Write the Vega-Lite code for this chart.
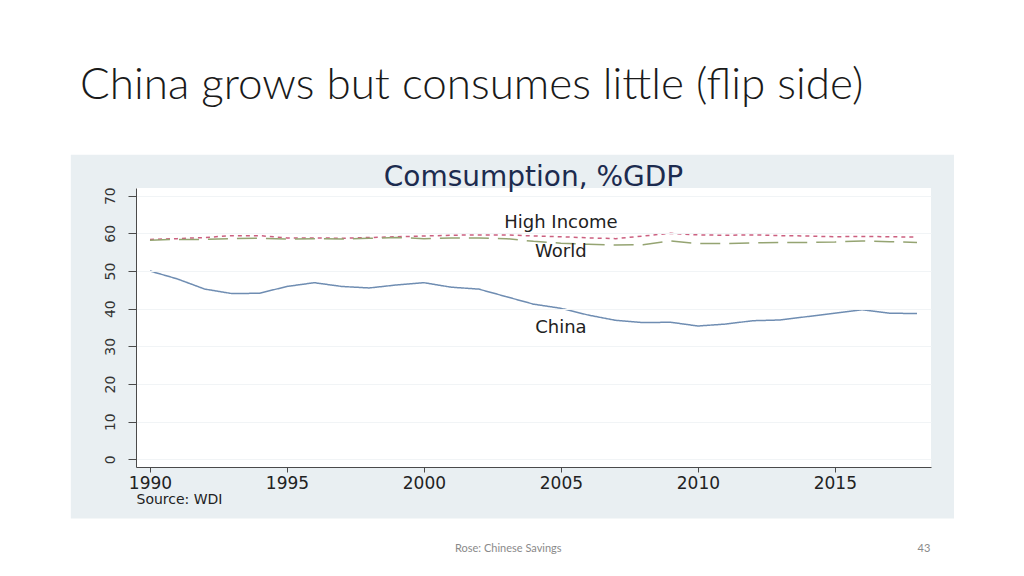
{
  "$schema": "https://vega.github.io/schema/vega-lite/v6.json",
  "width": 795,
  "height": 279,
  "autosize": {"type": "none"},
  "padding": {"left": 136, "top": 188, "right": 93, "bottom": 109},
  "background": "white",
  "config": {"view": {"stroke": null, "fill": "white"}},
  "title": {
    "text": "China grows but consumes little (flip side)",
    "anchor": "start",
    "frame": "group",
    "font": "Lato",
    "fontWeight": 300,
    "fontSize": 44,
    "color": "#1a1a1a",
    "dx": -56,
    "offset": 12,
    "baseline": "alphabetic"
  },
  "data": {
    "values": [
      {"year": 1990, "series": "China", "value": 50.0},
      {"year": 1991, "series": "China", "value": 47.9},
      {"year": 1992, "series": "China", "value": 45.2},
      {"year": 1993, "series": "China", "value": 44.0},
      {"year": 1994, "series": "China", "value": 44.1},
      {"year": 1995, "series": "China", "value": 45.9},
      {"year": 1996, "series": "China", "value": 46.9},
      {"year": 1997, "series": "China", "value": 45.9},
      {"year": 1998, "series": "China", "value": 45.5},
      {"year": 1999, "series": "China", "value": 46.3},
      {"year": 2000, "series": "China", "value": 46.9},
      {"year": 2001, "series": "China", "value": 45.7},
      {"year": 2002, "series": "China", "value": 45.2},
      {"year": 2003, "series": "China", "value": 43.2},
      {"year": 2004, "series": "China", "value": 41.2},
      {"year": 2005, "series": "China", "value": 40.1},
      {"year": 2006, "series": "China", "value": 38.3},
      {"year": 2007, "series": "China", "value": 36.9},
      {"year": 2008, "series": "China", "value": 36.3},
      {"year": 2009, "series": "China", "value": 36.4},
      {"year": 2010, "series": "China", "value": 35.4},
      {"year": 2011, "series": "China", "value": 35.9},
      {"year": 2012, "series": "China", "value": 36.8},
      {"year": 2013, "series": "China", "value": 37.0},
      {"year": 2014, "series": "China", "value": 37.9},
      {"year": 2015, "series": "China", "value": 38.8},
      {"year": 2016, "series": "China", "value": 39.7},
      {"year": 2017, "series": "China", "value": 38.8},
      {"year": 2018, "series": "China", "value": 38.7},
      {"year": 1990, "series": "High Income", "value": 58.4},
      {"year": 1991, "series": "High Income", "value": 58.6},
      {"year": 1992, "series": "High Income", "value": 58.9},
      {"year": 1993, "series": "High Income", "value": 59.4},
      {"year": 1994, "series": "High Income", "value": 59.4},
      {"year": 1995, "series": "High Income", "value": 58.8},
      {"year": 1996, "series": "High Income", "value": 58.8},
      {"year": 1997, "series": "High Income", "value": 58.7},
      {"year": 1998, "series": "High Income", "value": 58.9},
      {"year": 1999, "series": "High Income", "value": 59.1},
      {"year": 2000, "series": "High Income", "value": 59.3},
      {"year": 2001, "series": "High Income", "value": 59.5},
      {"year": 2002, "series": "High Income", "value": 59.6},
      {"year": 2003, "series": "High Income", "value": 59.6},
      {"year": 2004, "series": "High Income", "value": 59.3},
      {"year": 2005, "series": "High Income", "value": 59.1},
      {"year": 2006, "series": "High Income", "value": 58.8},
      {"year": 2007, "series": "High Income", "value": 58.6},
      {"year": 2008, "series": "High Income", "value": 59.3},
      {"year": 2009, "series": "High Income", "value": 60.0},
      {"year": 2010, "series": "High Income", "value": 59.6},
      {"year": 2011, "series": "High Income", "value": 59.5},
      {"year": 2012, "series": "High Income", "value": 59.6},
      {"year": 2013, "series": "High Income", "value": 59.4},
      {"year": 2014, "series": "High Income", "value": 59.3},
      {"year": 2015, "series": "High Income", "value": 59.1},
      {"year": 2016, "series": "High Income", "value": 59.2},
      {"year": 2017, "series": "High Income", "value": 59.1},
      {"year": 2018, "series": "High Income", "value": 59.0},
      {"year": 1990, "series": "World", "value": 58.2},
      {"year": 1991, "series": "World", "value": 58.4},
      {"year": 1992, "series": "World", "value": 58.4},
      {"year": 1993, "series": "World", "value": 58.6},
      {"year": 1994, "series": "World", "value": 58.7},
      {"year": 1995, "series": "World", "value": 58.5},
      {"year": 1996, "series": "World", "value": 58.6},
      {"year": 1997, "series": "World", "value": 58.5},
      {"year": 1998, "series": "World", "value": 58.7},
      {"year": 1999, "series": "World", "value": 58.9},
      {"year": 2000, "series": "World", "value": 58.6},
      {"year": 2001, "series": "World", "value": 58.8},
      {"year": 2002, "series": "World", "value": 58.8},
      {"year": 2003, "series": "World", "value": 58.6},
      {"year": 2004, "series": "World", "value": 57.9},
      {"year": 2005, "series": "World", "value": 57.4},
      {"year": 2006, "series": "World", "value": 57.1},
      {"year": 2007, "series": "World", "value": 56.9},
      {"year": 2008, "series": "World", "value": 57.0},
      {"year": 2009, "series": "World", "value": 58.0},
      {"year": 2010, "series": "World", "value": 57.3},
      {"year": 2011, "series": "World", "value": 57.3},
      {"year": 2012, "series": "World", "value": 57.5},
      {"year": 2013, "series": "World", "value": 57.6},
      {"year": 2014, "series": "World", "value": 57.6},
      {"year": 2015, "series": "World", "value": 57.7},
      {"year": 2016, "series": "World", "value": 58.0},
      {"year": 2017, "series": "World", "value": 57.8},
      {"year": 2018, "series": "World", "value": 57.6}
    ]
  },
  "layer": [
    {
      "data": {"values": [{}]},
      "mark": {"type": "rect", "color": "#e9eff2", "clip": false},
      "encoding": {
        "x": {
          "datum": 1987.11,
          "type": "quantitative",
          "scale": {"domain": [1989.49, 2018.51], "nice": false, "zero": false}
        },
        "x2": {"datum": 2019.35},
        "y": {
          "datum": 80.9,
          "type": "quantitative",
          "scale": {"domain": [-2.05, 72.05], "nice": false, "zero": false}
        },
        "y2": {"datum": -15.7}
      }
    },
    {
      "data": {"values": [{}]},
      "mark": {"type": "rect", "color": "white"},
      "encoding": {}
    },
    {
      "mark": {"type": "line", "strokeWidth": 1.5, "clip": false},
      "encoding": {
        "x": {
          "field": "year",
          "type": "quantitative",
          "axis": {
            "values": [1990, 1995, 2000, 2005, 2010, 2015],
            "tickCount": 6,
            "format": "d",
            "grid": false,
            "zindex": 1,
            "labelOverlap": false,
            "labelFlush": false,
            "domainColor": "#4a4a4a",
            "tickColor": "#4a4a4a",
            "tickSize": 5,
            "labelFont": "DejaVu Sans",
            "labelFontSize": 17,
            "labelColor": "#222",
            "labelPadding": 3,
            "title": "Source: WDI",
            "titleFont": "DejaVu Sans",
            "titleFontSize": 14,
            "titleFontWeight": "normal",
            "titleColor": "#222",
            "titleAnchor": "start",
            "titleAlign": "left",
            "titlePadding": 1
          }
        },
        "y": {
          "field": "value",
          "type": "quantitative",
          "axis": {
            "values": [0, 10, 20, 30, 40, 50, 60, 70],
            "tickCount": 8,
            "tickMinStep": 10,
            "grid": true,
            "gridColor": "#f1f4f6",
            "zindex": 1,
            "labelOverlap": false,
            "labelFlush": false,
            "domainColor": "#4a4a4a",
            "tickColor": "#4a4a4a",
            "tickSize": 8,
            "labelAngle": 270,
            "labelFont": "DejaVu Sans",
            "labelFontSize": 14,
            "labelColor": "#333",
            "labelPadding": 11,
            "title": null
          }
        },
        "color": {
          "field": "series",
          "type": "nominal",
          "scale": {"domain": ["China", "High Income", "World"], "range": ["#6f8db2", "#cc6080", "#95a472"]},
          "legend": null
        },
        "strokeDash": {
          "field": "series",
          "type": "nominal",
          "scale": {"domain": ["China", "High Income", "World"], "range": [[1, 0], [4, 4], [20, 9]]},
          "legend": null
        }
      }
    },
    {
      "transform": [{"filter": "datum.year === 2005 && datum.series === 'High Income'"}],
      "mark": {"type": "text", "font": "DejaVu Sans", "fontSize": 18, "color": "#222", "dy": -14, "baseline": "middle"},
      "encoding": {
        "x": {"field": "year", "type": "quantitative"},
        "y": {"field": "value", "type": "quantitative"},
        "text": {"field": "series"}
      }
    },
    {
      "transform": [{"filter": "datum.year === 2005 && datum.series === 'World'"}],
      "mark": {"type": "text", "font": "DejaVu Sans", "fontSize": 18, "color": "#222", "dy": 9, "baseline": "middle"},
      "encoding": {
        "x": {"field": "year", "type": "quantitative"},
        "y": {"field": "value", "type": "quantitative"},
        "text": {"field": "series"}
      }
    },
    {
      "transform": [{"filter": "datum.year === 2005 && datum.series === 'China'"}],
      "mark": {"type": "text", "font": "DejaVu Sans", "fontSize": 18, "color": "#222", "dy": 20, "baseline": "middle"},
      "encoding": {
        "x": {"field": "year", "type": "quantitative"},
        "y": {"field": "value", "type": "quantitative"},
        "text": {"field": "series"}
      }
    },
    {
      "data": {"values": [{}]},
      "mark": {"type": "text", "text": "Comsumption, %GDP", "font": "DejaVu Sans", "fontSize": 28, "color": "#1c2b4f", "baseline": "middle", "clip": false},
      "encoding": {
        "x": {"datum": 2004, "type": "quantitative"},
        "y": {"datum": 74.6, "type": "quantitative"}
      }
    },
    {
      "data": {"values": [{}]},
      "mark": {"type": "text", "text": "Rose: Chinese Savings", "font": "Lato", "fontSize": 11, "color": "#8a8a8a", "baseline": "middle", "clip": false},
      "encoding": {
        "x": {"datum": 2003.08, "type": "quantitative"},
        "y": {"datum": -23.96, "type": "quantitative"}
      }
    },
    {
      "data": {"values": [{}]},
      "mark": {"type": "text", "text": "43", "font": "Lato", "fontSize": 11, "color": "#8a8a8a", "baseline": "middle", "clip": false},
      "encoding": {
        "x": {"datum": 2018.25, "type": "quantitative"},
        "y": {"datum": -23.96, "type": "quantitative"}
      }
    }
  ]
}
